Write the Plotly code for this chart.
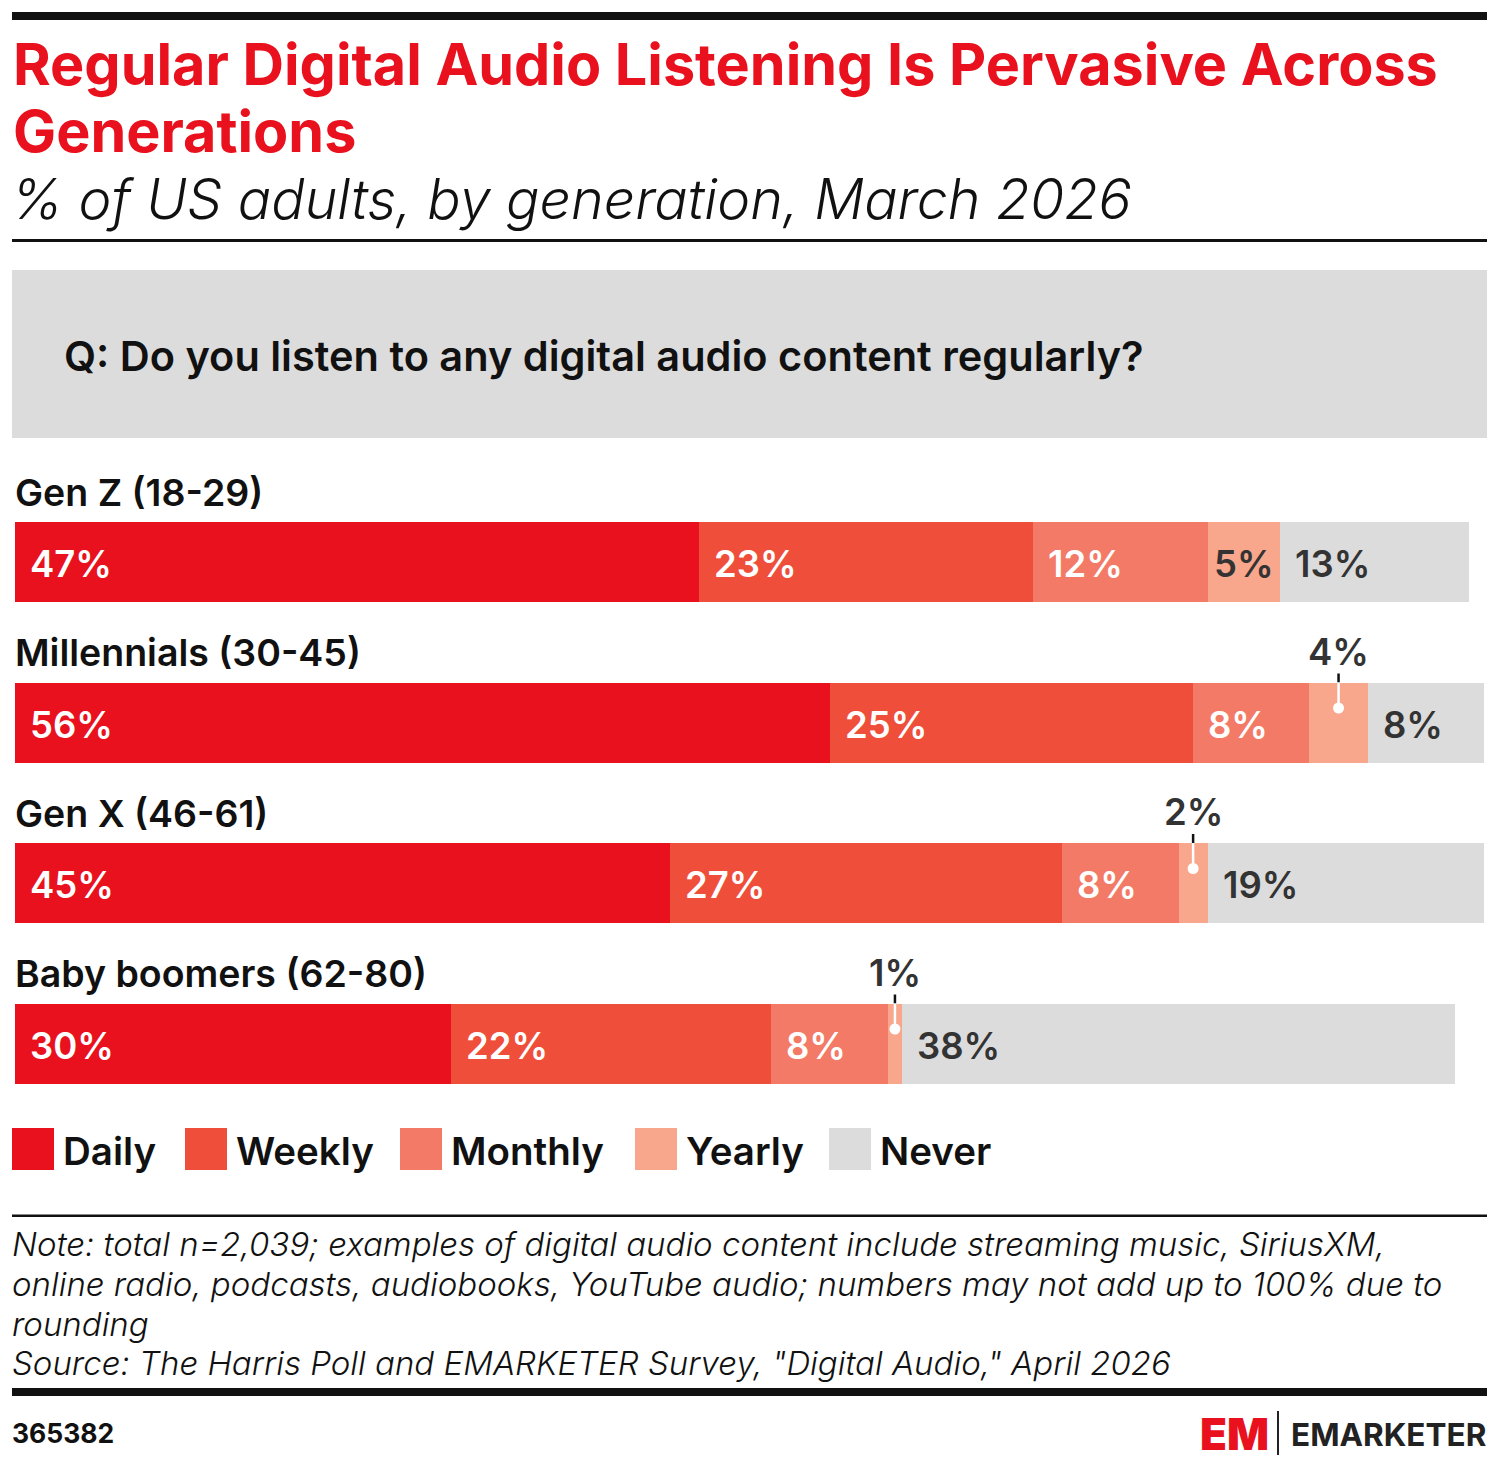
import plotly.graph_objects as go

# ---------------- data ----------------
generations = ["Gen Z (18-29)", "Millennials (30-45)", "Gen X (46-61)", "Baby boomers (62-80)"]
series_names = ["Daily", "Weekly", "Monthly", "Yearly", "Never"]
daily = [47, 56, 45, 30]
weekly = [23, 25, 27, 22]
monthly = [12, 8, 8, 8]
yearly = [5, 4, 2, 1]
never = [13, 8, 19, 38]

series_values = [daily, weekly, monthly, yearly, never]
colors = ["#E8111D", "#EF4E3A", "#F37A66", "#F8A68C", "#DCDCDC"]
label_colors = ["#FFFFFF", "#FFFFFF", "#FFFFFF", "#333333", "#333333"]

W, H = 1499, 1472
FONT = "Inter"


def py(px):
    """pixel from top -> paper y"""
    return 1 - px / H


def px_x(px):
    return px / W


ypos = list(range(len(generations)))

fig = go.Figure()
for name, vals, col in zip(series_names, series_values, colors):
    fig.add_trace(go.Bar(
        y=ypos, x=vals, name=name, orientation="h",
        marker=dict(color=col, line=dict(width=0)),
        width=0.5, showlegend=False, hoverinfo="skip",
    ))

annotations = []
shapes = []

# category labels above bars
for i, g in enumerate(generations):
    annotations.append(dict(
        x=0, y=i, xref="x", yref="y", text=g, showarrow=False,
        xanchor="left", yanchor="middle", xshift=-2, yshift=70,
        font=dict(family=FONT, size=37.5, color="#111111", weight=600),
    ))

VAL_SIZE = 36.5
VAL_DY = -2
# value labels
for i in range(len(generations)):
    start = 0
    for s, (vals, lc) in enumerate(zip(series_values, label_colors)):
        v = vals[i]
        txt = f"{v}%"
        if s == 3 and v < 5:
            # callout above bar
            c = start + v / 2
            annotations.append(dict(
                x=c, y=i, xref="x", yref="y", text=txt, showarrow=False,
                xanchor="center", yanchor="middle", yshift=71,
                font=dict(family=FONT, size=VAL_SIZE, color="#333333", weight=600),
            ))
            shapes.append(dict(type="line", xref="x", yref="y", ysizemode="pixel",
                               yanchor=i, x0=c, x1=c, y0=40, y1=49,
                               line=dict(color="#111111", width=2.5)))
            shapes.append(dict(type="line", xref="x", yref="y", ysizemode="pixel",
                               yanchor=i, x0=c, x1=c, y0=14.5, y1=40,
                               line=dict(color="#FFFFFF", width=2.5)))
            shapes.append(dict(type="circle", xref="x", yref="y",
                               xsizemode="pixel", ysizemode="pixel",
                               xanchor=c, yanchor=i, x0=-5.5, x1=5.5, y0=9, y1=20,
                               fillcolor="#FFFFFF", line=dict(width=0)))
        elif v < 6:
            annotations.append(dict(
                x=start + v / 2, y=i, xref="x", yref="y", text=txt, showarrow=False,
                xanchor="center", yanchor="middle", yshift=VAL_DY,
                font=dict(family=FONT, size=VAL_SIZE, color=lc, weight=600),
            ))
        else:
            annotations.append(dict(
                x=start, y=i, xref="x", yref="y", text=txt, showarrow=False,
                xanchor="left", yanchor="middle", xshift=13, yshift=VAL_DY,
                font=dict(family=FONT, size=VAL_SIZE, color=lc, weight=600),
            ))
        start += v

# title / subtitle
annotations += [
    dict(x=px_x(11), y=py(64), xref="paper", yref="paper", showarrow=False,
         xanchor="left", yanchor="middle",
         text="Regular Digital Audio Listening Is Pervasive Across",
         font=dict(family=FONT, size=57.5, color="#E8111D", weight=700)),
    dict(x=px_x(11), y=py(131), xref="paper", yref="paper", showarrow=False,
         xanchor="left", yanchor="middle", text="Generations",
         font=dict(family=FONT, size=57.5, color="#E8111D", weight=700)),
    dict(x=px_x(9), y=py(198), xref="paper", yref="paper", showarrow=False,
         xanchor="left", yanchor="middle",
         text="<i>% of US adults, by generation, March 2026</i>",
         font=dict(family=FONT, size=55.5, color="#111111", weight=300)),
    dict(x=px_x(62), y=py(356), xref="paper", yref="paper", showarrow=False,
         xanchor="left", yanchor="middle",
         text="Q: Do you listen to any digital audio content regularly?",
         font=dict(family=FONT, size=41.5, color="#111111", weight=600)),
]

# legend (custom, large squares)
legend_x = [12, 185, 400, 635, 829]
for lx, name, col in zip(legend_x, series_names, colors):
    shapes.append(dict(type="rect", xref="paper", yref="paper",
                       x0=px_x(lx), x1=px_x(lx + 42), y0=py(1170), y1=py(1128),
                       fillcolor=col, line=dict(width=0)))
    annotations.append(dict(x=px_x(lx + 49), y=py(1151), xref="paper", yref="paper",
                            showarrow=False, xanchor="left", yanchor="middle", text=name,
                            font=dict(family=FONT, size=38.5, color="#111111", weight=600)))

# notes
note_lines = [
    "Note: total n=2,039; examples of digital audio content include streaming music, SiriusXM,",
    "online radio, podcasts, audiobooks, YouTube audio; numbers may not add up to 100% due to",
    "rounding",
    "Source: The Harris Poll and EMARKETER Survey, \"Digital Audio,\" April 2026",
]
note_y = [1244, 1284, 1324, 1363]
for t, ny in zip(note_lines, note_y):
    annotations.append(dict(x=px_x(10), y=py(ny), xref="paper", yref="paper",
                            showarrow=False, xanchor="left", yanchor="middle",
                            text=f"<i>{t}</i>",
                            font=dict(family=FONT, size=33, color="#111111", weight=300)))

annotations += [
    dict(x=px_x(10), y=py(1433), xref="paper", yref="paper", showarrow=False,
         xanchor="left", yanchor="middle", text="365382",
         font=dict(family=FONT, size=26.5, color="#111111", weight=700)),
    dict(x=px_x(1198), y=py(1434), xref="paper", yref="paper", showarrow=False,
         xanchor="left", yanchor="middle", text="EM",
         font=dict(family=FONT, size=44, color="#E8111D", weight=900)),
    dict(x=px_x(1289), y=py(1434), xref="paper", yref="paper", showarrow=False,
         xanchor="left", yanchor="middle", text="EMARKETER",
         font=dict(family=FONT, size=31.5, color="#222222", weight=700)),
]

# rules & box
shapes += [
    dict(type="rect", xref="paper", yref="paper", x0=px_x(12), x1=px_x(1487),
         y0=py(20), y1=py(12), fillcolor="#111111", line=dict(width=0)),
    dict(type="rect", xref="paper", yref="paper", x0=px_x(12), x1=px_x(1487),
         y0=py(242), y1=py(239), fillcolor="#111111", line=dict(width=0)),
    dict(type="rect", xref="paper", yref="paper", x0=px_x(12), x1=px_x(1487),
         y0=py(438), y1=py(270), fillcolor="#DCDCDC", line=dict(width=0), layer="below"),
    dict(type="rect", xref="paper", yref="paper", x0=px_x(12), x1=px_x(1487),
         y0=py(1217), y1=py(1214.5), fillcolor="#111111", line=dict(width=0)),
    dict(type="rect", xref="paper", yref="paper", x0=px_x(12), x1=px_x(1487),
         y0=py(1396), y1=py(1388), fillcolor="#111111", line=dict(width=0)),
    dict(type="rect", xref="paper", yref="paper", x0=px_x(1277), x1=px_x(1279),
         y0=py(1455), y1=py(1411), fillcolor="#222222", line=dict(width=0)),
]

fig.update_layout(
    width=W, height=H, barmode="stack", bargap=0,
    margin=dict(l=0, r=0, t=0, b=0),
    paper_bgcolor="white", plot_bgcolor="white",
    xaxis=dict(domain=[15 / W, 1484 / W], range=[0, 101], visible=False, fixedrange=True),
    yaxis=dict(domain=[py(1123.75), py(481.75)], range=[3.5, -0.5], visible=False,
               fixedrange=True),
    annotations=annotations, shapes=shapes,
)

fig.write_html("out.html")
